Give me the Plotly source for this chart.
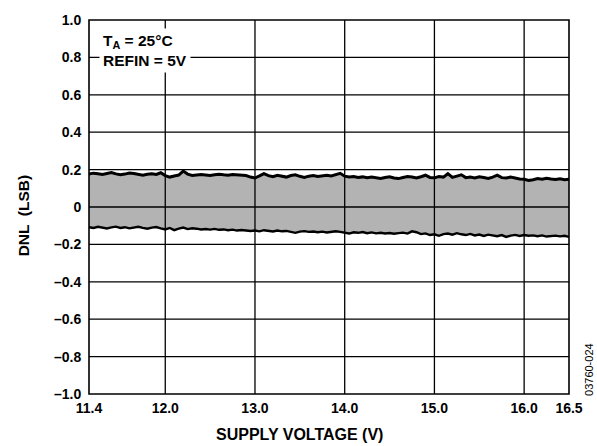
import plotly.graph_objects as go

# Axis positions (left end of the axis is labelled 11.4 in the original figure)
x_tick_vals = [11.15, 12.0, 13.0, 14.0, 15.0, 16.0, 16.5]
x_tick_text = ["11.4", "12.0", "13.0", "14.0", "15.0", "16.0", "16.5"]
y_tick_vals = [-1.0, -0.8, -0.6, -0.4, -0.2, 0.0, 0.2, 0.4, 0.6, 0.8, 1.0]
y_tick_text = ["\u20131.0", "\u20130.8", "\u20130.6", "\u20130.4", "\u20130.2", "0",
               "0.2", "0.4", "0.6", "0.8", "1.0"]

# supply voltage sample positions (axis units), step 0.05
supply_v = [round(11.15 + 0.05 * i, 2) for i in range(108)]

dnl_max = [
    0.176, 0.181, 0.178, 0.174, 0.179, 0.184, 0.177, 0.172, 0.176, 0.182,
    0.179, 0.173, 0.170, 0.175, 0.178, 0.174, 0.183, 0.168, 0.160, 0.166,
    0.171, 0.192, 0.176, 0.169, 0.172, 0.174, 0.171, 0.168, 0.172, 0.175,
    0.172, 0.170, 0.174, 0.173, 0.171, 0.168, 0.160, 0.155, 0.166, 0.178,
    0.168, 0.162, 0.170, 0.166, 0.160, 0.168, 0.172, 0.164, 0.158, 0.165,
    0.168, 0.163, 0.167, 0.170, 0.166, 0.174, 0.180, 0.165, 0.160, 0.163,
    0.158, 0.161, 0.156, 0.160, 0.157, 0.153, 0.158, 0.162, 0.155, 0.152,
    0.158, 0.163, 0.160, 0.155, 0.162, 0.170, 0.158, 0.156, 0.163, 0.160,
    0.178, 0.158, 0.165, 0.172, 0.157, 0.160, 0.155, 0.162, 0.158, 0.153,
    0.160, 0.170, 0.157, 0.155, 0.160, 0.154, 0.150, 0.148, 0.142, 0.146,
    0.152, 0.148, 0.154, 0.150, 0.147, 0.151, 0.146, 0.149,
]

dnl_min = [
    -0.108, -0.112, -0.106, -0.110, -0.115, -0.109, -0.105, -0.112, -0.108, -0.114,
    -0.110, -0.106, -0.112, -0.116, -0.110, -0.107, -0.114, -0.120, -0.112, -0.124,
    -0.116, -0.110, -0.118, -0.114, -0.116, -0.120, -0.118, -0.121, -0.117, -0.122,
    -0.120, -0.124, -0.121, -0.126, -0.123, -0.125, -0.128, -0.126, -0.130, -0.124,
    -0.127, -0.131, -0.126, -0.130, -0.128, -0.134, -0.138, -0.132, -0.129, -0.133,
    -0.131, -0.135, -0.132, -0.136, -0.134, -0.130, -0.133, -0.138, -0.142, -0.135,
    -0.138, -0.134, -0.140, -0.136, -0.141, -0.138, -0.142, -0.139, -0.143, -0.140,
    -0.137, -0.142, -0.130, -0.135, -0.145, -0.141, -0.150, -0.146, -0.154, -0.145,
    -0.142, -0.148, -0.140, -0.146, -0.150, -0.144, -0.152, -0.147, -0.155, -0.148,
    -0.151, -0.156, -0.150, -0.160, -0.153, -0.149, -0.155, -0.150, -0.154, -0.152,
    -0.156, -0.152, -0.158, -0.155, -0.153, -0.157, -0.154, -0.160,
]

FONT = "Arial, Liberation Sans, Helvetica, sans-serif"

fig = go.Figure()
fig.add_trace(go.Scatter(x=supply_v, y=dnl_min, mode="lines",
                         line=dict(color="black", width=2.4), showlegend=False))
fig.add_trace(go.Scatter(x=supply_v, y=dnl_max, mode="lines", fill="tonexty",
                         fillcolor="#b3b3b3",
                         line=dict(color="black", width=3.0), showlegend=False))

# grid lines drawn above the filled band
shapes = []
for xv in x_tick_vals[1:-1]:
    shapes.append(dict(type="line", xref="x", yref="paper", x0=xv, x1=xv, y0=0, y1=1,
                       line=dict(color="black", width=1.3), layer="above"))
for yv in y_tick_vals[1:-1]:
    shapes.append(dict(type="line", xref="paper", yref="y", x0=0, x1=1, y0=yv, y1=yv,
                       line=dict(color="black", width=1.3), layer="above"))
shapes.append(dict(type="rect", xref="paper", yref="paper", x0=0, x1=1, y0=0, y1=1,
                   line=dict(color="black", width=1.6), layer="above"))

tick_font = dict(family=FONT, size=14, weight="bold", color="black")

fig.update_layout(
    width=597, height=446,
    margin=dict(l=89, r=28, t=13, b=52),
    paper_bgcolor="white", plot_bgcolor="white",
    shapes=shapes,
    font=dict(family=FONT, color="black"),
    xaxis=dict(range=[11.15, 16.5], tickmode="array", tickvals=x_tick_vals,
               ticktext=x_tick_text, showgrid=False, zeroline=False,
               showline=False, ticks="outside", ticklen=1,
               tickcolor="rgba(0,0,0,0)", tickfont=tick_font),
    yaxis=dict(range=[-1.0, 1.0], tickmode="array", tickvals=y_tick_vals,
               ticktext=y_tick_text, showgrid=False, zeroline=False,
               showline=False, ticks="outside", ticklen=4,
               tickcolor="rgba(0,0,0,0)", tickfont=tick_font),
    annotations=[
        dict(xref="paper", yref="paper", x=0.021, y=0.979, xanchor="left", yanchor="top",
             text="<b>T<sub>A</sub> = 25°C</b><br><b>REFIN = 5V</b>", align="left",
             showarrow=False, bgcolor="white", borderpad=3,
             font=dict(family=FONT, size=15.5, color="black")),
        dict(xref="paper", yref="paper", x=0.4375, y=0, yshift=-40,
             xanchor="center", yanchor="middle",
             text="<b>SUPPLY VOLTAGE (V)</b>", showarrow=False,
             font=dict(family=FONT, size=16, color="black")),
        dict(xref="paper", yref="paper", x=0, xshift=-66, y=0.4777,
             xanchor="center", yanchor="middle", textangle=-90,
             text="<b>DNL  (LSB)</b>", showarrow=False,
             font=dict(family=FONT, size=15.5, color="black")),
        dict(xref="paper", yref="paper", x=1.0, xshift=20.5, y=0.0656,
             xanchor="center", yanchor="middle", textangle=-90,
             text="03760-024", showarrow=False,
             font=dict(family=FONT, size=11, color="black")),
    ],
)

fig.write_html(
    "out.html",
    config={"displayModeBar": False},
    post_script="document.body.style.margin='0';document.body.style.overflow='hidden';",
)
